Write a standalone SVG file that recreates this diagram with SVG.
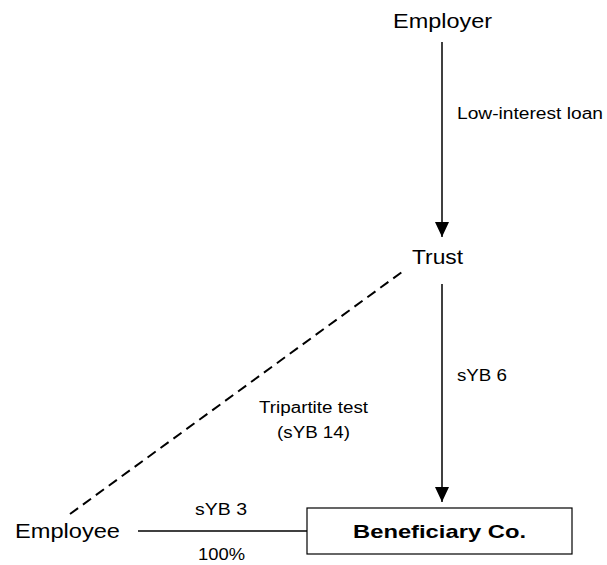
<svg xmlns="http://www.w3.org/2000/svg" width="607" height="565" viewBox="0 0 607 565">
<style>
text{font-family:"Liberation Sans",Arial,sans-serif;fill:#000}
.big{font-size:20px}
.sm{font-size:16px}
.bold{font-size:18.5px;font-weight:bold}
.ln{stroke:#000;stroke-width:1.5;fill:none}
.dash{stroke:#000;stroke-width:2;fill:none;stroke-dasharray:10,6}
</style>
<defs>
<marker id="ah" markerWidth="15" markerHeight="14" refX="15" refY="7" orient="auto" markerUnits="userSpaceOnUse" viewBox="0 0 15 14">
<path d="M0,0 L15,7 L0,14 Z" fill="#000"/>
</marker>
</defs>
<rect width="607" height="565" fill="#fff"/>
<g id="connectors">
<line class="ln" x1="442" y1="42" x2="442" y2="237" marker-end="url(#ah)"/>
<line class="ln" x1="442" y1="284" x2="442" y2="502" marker-end="url(#ah)"/>
<line class="dash" x1="70" y1="514" x2="402" y2="272"/>
<line class="ln" x1="138" y1="531" x2="307" y2="531"/>
<text class="sm" x="457" y="119" textLength="146" lengthAdjust="spacingAndGlyphs">Low-interest  loan</text>
<text class="sm" x="457" y="381" textLength="50" lengthAdjust="spacingAndGlyphs">sYB 6</text>
<text class="sm" x="259" y="413" textLength="109" lengthAdjust="spacingAndGlyphs">Tripartite test</text>
<text class="sm" x="277" y="438" textLength="73" lengthAdjust="spacingAndGlyphs">(sYB 14)</text>
<text class="sm" x="195" y="515" textLength="52" lengthAdjust="spacingAndGlyphs">sYB 3</text>
<text class="sm" x="198" y="560" textLength="47" lengthAdjust="spacingAndGlyphs">100%</text>
</g>
<g id="employer">
<text class="big" x="393" y="28" textLength="99" lengthAdjust="spacingAndGlyphs">Employer</text>
</g>
<g id="trust">
<text class="big" x="412" y="264" textLength="51" lengthAdjust="spacingAndGlyphs">Trust</text>
</g>
<g id="employee">
<text class="big" x="15" y="538" textLength="105" lengthAdjust="spacingAndGlyphs">Employee</text>
</g>
<g id="beneficiary">
<rect x="307" y="508" width="265" height="46" fill="#fff" stroke="#000" stroke-width="1.2"/>
<text class="bold" x="353" y="538" textLength="173" lengthAdjust="spacingAndGlyphs">Beneficiary Co.</text>
</g>
</svg>
